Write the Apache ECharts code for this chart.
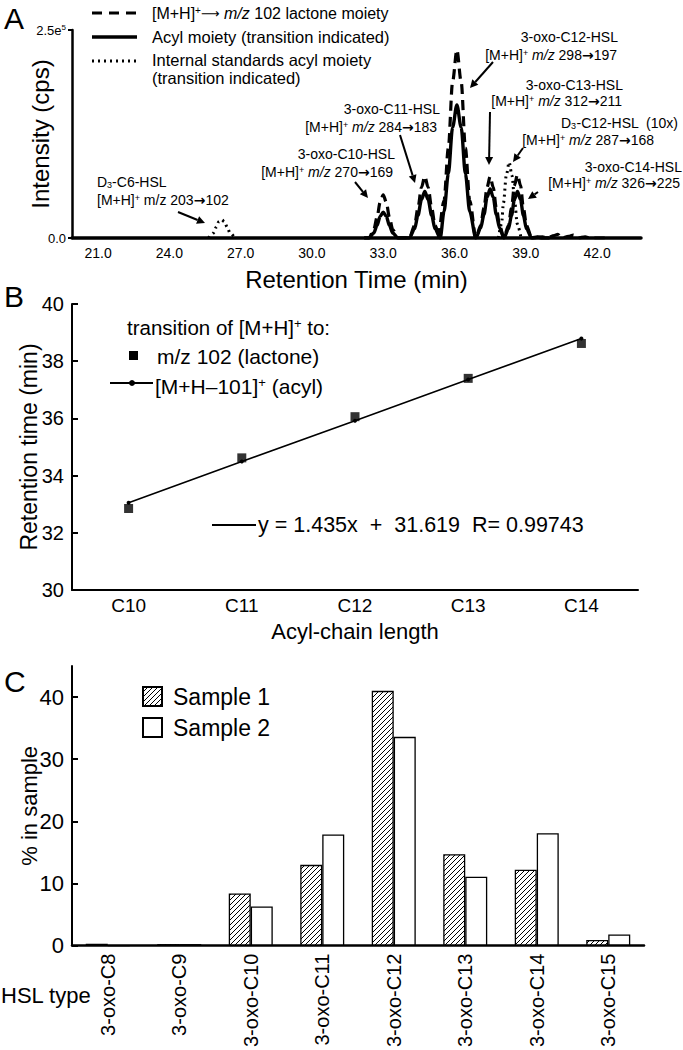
<!DOCTYPE html>
<html><head><meta charset="utf-8">
<script src="https://cdn.jsdelivr.net/npm/echarts@6/dist/echarts.min.js"></script>
<style>html,body{margin:0;padding:0;background:#fff}#c{width:683px;height:1050px}</style>
</head><body><div id="c"></div>
<script>
// ---------- Panel A: chromatogram traces [retention time (min), intensity (cps)]
const lactoneTrace = [
  [32.2,0],[32.4,0],[32.6,10000],[32.74,25000],[32.87,43000],[33.0,52000],[33.13,43000],[33.26,25000],[33.4,10000],[33.62,0],
  [34.1,0],[34.32,15000],[34.46,36000],[34.61,61000],[34.75,74000],[34.89,61000],[35.04,36000],[35.18,15000],[35.4,0],
  [35.3,0],[35.56,45000],[35.74,108000],[35.92,188000],[36.1,226000],[36.28,188000],[36.46,108000],[36.64,45000],[36.9,0],
  [37.1,15000],[37.24,36000],[37.37,61000],[37.5,74000],[37.63,61000],[37.76,36000],[37.9,15000],[38.08,0],
  [38.27,15000],[38.4,36000],[38.52,63000],[38.65,76000],[38.78,63000],[38.9,36000],[39.03,15000],[39.25,0],
  [39.7,1500],[39.9,0],[40.2,3000],[40.35,4500],[40.5,0],[40.8,2000],[41.0,3500],[41.2,0],[41.5,1500],[41.7,0],[42.5,0]
];
const acylTrace = [
  [32.2,0],[32.4,0],[32.6,6000],[32.74,15000],[32.87,26000],[33.0,31000],[33.13,26000],[33.26,15000],[33.4,6000],[33.62,0],
  [34.1,0],[34.32,11000],[34.46,27000],[34.61,46000],[34.75,56000],[34.89,46000],[35.04,27000],[35.18,11000],[35.4,0],
  [35.56,32000],[35.74,77000],[35.92,133000],[36.1,160000],[36.28,133000],[36.46,77000],[36.64,32000],[36.9,0],
  [37.1,12000],[37.24,28000],[37.37,49000],[37.5,59000],[37.63,49000],[37.76,28000],[37.9,12000],[38.08,0],
  [38.27,11000],[38.4,27000],[38.52,46000],[38.65,56000],[38.78,46000],[38.9,27000],[39.03,11000],[39.25,0],
  [39.5,1200],[39.7,0],[40.0,0]
];
const standardTrace = [
  [25.65,0],[25.85,6000],[25.97,13000],[26.08,19500],[26.2,22000],[26.32,19500],[26.43,13000],[26.55,6000],[26.75,0],
  null,
  [37.85,0],[37.98,17000],[38.06,42000],[38.18,75000],[38.3,91000],[38.42,75000],[38.54,42000],[38.64,17000],[38.8,0]
];
const retentionTicks = [21, 24, 27, 30, 33, 36, 39, 42];
const intensityTicks = [0, 250000];

// ---------- Panel B
const chainLengths = ['C10', 'C11', 'C12', 'C13', 'C14'];
const lactoneRT = [32.85, 34.62, 36.06, 37.4, 38.62];
const acylFitRT = [33.05, 34.49, 35.92, 37.36, 38.79];

// ---------- Panel C
const hslTypes = ['3-oxo-C8','3-oxo-C9','3-oxo-C10','3-oxo-C11','3-oxo-C12','3-oxo-C13','3-oxo-C14','3-oxo-C15'];
const sample1 = [0.3, 0.25, 8.4, 13.0, 41.0, 14.7, 12.2, 0.9];
const sample2 = [0, 0.25, 6.3, 17.9, 33.6, 11.1, 18.1, 1.8];
const percentTicks = [0, 10, 20, 30, 40];

const FF = '"Liberation Sans", Arial, sans-serif';

function hatchCanvas() {
  const c = document.createElement('canvas'); c.width = 5; c.height = 5;
  const g = c.getContext('2d');
  g.fillStyle = '#fff'; g.fillRect(0, 0, 5, 5);
  g.strokeStyle = '#000'; g.lineWidth = 1;
  g.beginPath();
  g.moveTo(-1, 6); g.lineTo(6, -1);
  g.moveTo(-1, 1); g.lineTo(1, -1);
  g.moveTo(4, 6); g.lineTo(6, 4);
  g.stroke();
  return c;
}
const hatch = { image: hatchCanvas(), repeat: 'repeat' };

function richSet(fs) {
  return {
    n: { fontSize: fs, fontFamily: FF, color: '#000' },
    i: { fontSize: fs, fontFamily: FF, fontStyle: 'italic', color: '#000' },
    sup: { fontSize: Math.round(fs * 0.62), fontFamily: FF, verticalAlign: 'top', color: '#000' },
    sub: { fontSize: Math.round(fs * 0.62), fontFamily: FF, verticalAlign: 'bottom', color: '#000' },
    ar: { fontSize: Math.round(fs * 0.8), fontFamily: '"DejaVu Sans", sans-serif', color: '#000' },
    arw: { fontSize: fs, fontFamily: '"DejaVu Sans", sans-serif', fontWeight: 'bold', color: '#000' }
  };
}
function wrapRich(s) {
  return s.split(/(\{[a-z]+\|[^}]*\})/).map(p => (p === '' || p[0] === '{') ? p : '{n|' + p + '}').join('');
}
function txt(x, y, text, fs, align) {
  return {
    type: 'text', x: x, y: y, z: 100,
    style: {
      text: wrapRich(text), fontSize: fs, fontFamily: FF, fill: '#000',
      align: align || 'left', textAlign: align || 'left',
      verticalAlign: 'middle', textVerticalAlign: 'middle',
      rich: richSet(fs)
    }
  };
}
function arrow(x1, y1, x2, y2) {
  const a = Math.atan2(y2 - y1, x2 - x1), L = 8, W = 4;
  const bx = x2 - L * Math.cos(a), by = y2 - L * Math.sin(a);
  const px = -Math.sin(a) * W, py = Math.cos(a) * W;
  return [
    { type: 'line', z: 100, shape: { x1: x1, y1: y1, x2: bx, y2: by }, style: { stroke: '#000', lineWidth: 2 } },
    { type: 'polygon', z: 100, shape: { points: [[x2, y2], [bx + px, by + py], [bx - px, by - py]] }, style: { fill: '#000' } }
  ];
}
function seg(x1, y1, x2, y2, w, dash) {
  return { type: 'line', z: 100, shape: { x1: x1, y1: y1, x2: x2, y2: y2 },
    style: { stroke: '#000', lineWidth: w, lineDash: dash || null } };
}

const graphics = [
  txt(4, 18, 'A', 30), txt(4, 296, 'B', 30), txt(4, 681, 'C', 30),
  // legend A
  seg(92, 13, 136, 13, 3, [10, 7]),
  txt(152, 13, '[M+H]{sup|+}{ar|⟶} {i|m/z} 102 lactone moiety', 16),
  seg(92, 37, 137, 37, 3.5),
  txt(152, 37, 'Acyl moiety (transition indicated)', 16.5),
  seg(92, 61, 136, 61, 3, [2, 4]),
  txt(152, 60, 'Internal standards acyl moiety', 16.5),
  txt(152, 78, '(transition indicated)', 16.5),
  // annotations A
  txt(97, 182, 'D{sub|3}-C6-HSL', 14),
  txt(97, 200, '[M+H]{sup|+} m/z 203{arw|→}102', 14),
  txt(395, 154, '3-oxo-C10-HSL', 14, 'right'),
  txt(393, 172, '[M+H]{sup|+} {i|m/z} 270{arw|→}169', 14, 'right'),
  txt(440, 109, '3-oxo-C11-HSL', 14, 'right'),
  txt(437, 127, '[M+H]{sup|+} {i|m/z} 284{arw|→}183', 14, 'right'),
  txt(618, 37, '3-oxo-C12-HSL', 14, 'right'),
  txt(617, 55, '[M+H]{sup|+} {i|m/z} 298{arw|→}197', 14, 'right'),
  txt(623, 85, '3-oxo-C13-HSL', 14, 'right'),
  txt(622, 101, '[M+H]{sup|+} {i|m/z} 312{arw|→}211', 14, 'right'),
  txt(678, 123, 'D{sub|3}-C12-HSL  (10x)', 14, 'right'),
  txt(654, 140, '[M+H]{sup|+} {i|m/z} 287{arw|→}168', 14, 'right'),
  txt(682, 167, '3-oxo-C14-HSL', 14, 'right'),
  txt(680, 183, '[M+H]{sup|+} {i|m/z} 326{arw|→}225', 14, 'right'),
  ...arrow(178, 212, 205, 223),
  ...arrow(355, 182, 368, 198),
  ...arrow(400, 135, 415, 183),
  ...arrow(493, 62, 470, 88),
  ...arrow(490, 112, 489, 165),
  ...arrow(523, 148, 513, 162),
  ...arrow(538, 192, 528, 199),
  // legend B
  txt(127, 327, 'transition of [M+H]{sup|+} to:', 20.5),
  { type: 'rect', z: 100, shape: { x: 129, y: 351, width: 9, height: 9 }, style: { fill: '#000' } },
  txt(157, 356, 'm/z 102 (lactone)', 21),
  seg(110, 383, 153, 383, 1.8),
  { type: 'circle', z: 100, shape: { cx: 132, cy: 383, r: 3 }, style: { fill: '#000' } },
  txt(155, 386, '[M+H–101]{sup|+} (acyl)', 21),
  seg(212, 525, 256, 525, 1.8),
  txt(258, 525, 'y = 1.435x  +  31.619  R= 0.99743', 21.5),
  // C axis category title
  txt(1, 995, 'HSL type', 22)
];

const chart = echarts.init(document.getElementById('c'), null, { renderer: 'svg' });
const black = '#000';
const axisTxt = (fs) => ({ color: black, fontSize: fs, fontFamily: FF });

chart.setOption({
  animation: false,
  backgroundColor: '#fff',
  grid: [
    { left: 72, top: 30, width: 569, height: 208 },
    { left: 72, top: 304, width: 566, height: 286 },
    { left: 72, top: 666, width: 572, height: 280 }
  ],
  legend: [{
    data: ['Sample 1', 'Sample 2'], orient: 'vertical', left: 137, top: 680,
    itemWidth: 19, itemHeight: 19, itemGap: 8, icon: 'rect',
    textStyle: { ...axisTxt(23), padding: [0, 0, 0, 6] }
  }],
  xAxis: [
    { gridIndex: 0, type: 'value', min: 19.9, max: 43.85,
      name: 'Retention Time (min)', nameLocation: 'middle', nameGap: 29, nameMoveOverlap: false,
      nameTextStyle: axisTxt(24),
      axisLine: { lineStyle: { color: black, width: 3.5 } },
      axisTick: { show: false }, splitLine: { show: false },
      axisLabel: { customValues: retentionTicks, formatter: v => v.toFixed(1), margin: 8, ...axisTxt(14) } },
    { gridIndex: 1, type: 'category', data: chainLengths, boundaryGap: true,
      name: 'Acyl-chain length', nameLocation: 'middle', nameGap: 30, nameMoveOverlap: false,
      nameTextStyle: axisTxt(22),
      axisLine: { lineStyle: { color: black, width: 2 } },
      axisTick: { alignWithLabel: true, inside: true, length: 6, lineStyle: { color: black, width: 2 } },
      axisLabel: { margin: 6, ...axisTxt(19) } },
    { gridIndex: 2, type: 'category', data: hslTypes, boundaryGap: true,
      axisLine: { lineStyle: { color: black, width: 2.5 } },
      axisTick: { inside: true, length: 7, lineStyle: { color: black, width: 2 } },
      axisLabel: { rotate: 90, interval: 0, margin: 8, ...axisTxt(20) } }
  ],
  yAxis: [
    { gridIndex: 0, type: 'value', min: 0, max: 250000,
      name: 'Intensity (cps)', nameLocation: 'middle', nameGap: 20, nameRotate: 90, nameMoveOverlap: false,
      nameTextStyle: axisTxt(24),
      axisLine: { show: true, lineStyle: { color: black, width: 2.5 } },
      axisTick: { show: true, customValues: intensityTicks, length: 4, lineStyle: { color: black, width: 2 } },
      splitLine: { show: false },
      axisLabel: { customValues: intensityTicks, margin: 6, ...axisTxt(13),
        formatter: v => {
          if (v === 0) return '0.0';
          const e = Math.floor(Math.log10(v));
          return (v / Math.pow(10, e)).toFixed(1) + 'e{sup|' + e + '}';
        },
        rich: { sup: { fontSize: 8, verticalAlign: 'top', fontFamily: FF, color: black } } } },
    { gridIndex: 1, type: 'value', min: 30, max: 40, interval: 2,
      name: 'Retention time (min)', nameLocation: 'middle', nameGap: 32, nameRotate: 90, nameMoveOverlap: false,
      nameTextStyle: axisTxt(23),
      axisLine: { show: true, lineStyle: { color: black, width: 2 } },
      axisTick: { show: true, inside: true, length: 6, lineStyle: { color: black, width: 2 } },
      splitLine: { show: false },
      axisLabel: { margin: 8, ...axisTxt(20) } },
    { gridIndex: 2, type: 'value', min: 0, max: 45,
      name: '% in sample', nameLocation: 'middle', nameGap: 32, nameRotate: 90, nameMoveOverlap: false,
      nameTextStyle: axisTxt(22),
      axisLine: { show: true, lineStyle: { color: black, width: 2 } },
      axisTick: { show: true, inside: true, length: 6, customValues: percentTicks, lineStyle: { color: black, width: 2 } },
      splitLine: { show: false },
      axisLabel: { customValues: percentTicks, margin: 8, ...axisTxt(22) } }
  ],
  series: [
    { name: 'm/z 102 lactone moiety', type: 'line', xAxisIndex: 0, yAxisIndex: 0, data: lactoneTrace,
      showSymbol: false, smooth: 0.3, smoothMonotone: 'x', connectNulls: false,
      lineStyle: { color: black, width: 3.2, type: [10, 6] }, z: 3 },
    { name: 'Acyl moiety', type: 'line', xAxisIndex: 0, yAxisIndex: 0, data: acylTrace,
      showSymbol: false, smooth: 0.3, smoothMonotone: 'x',
      lineStyle: { color: black, width: 3.4 }, z: 4 },
    { name: 'Internal standards acyl moiety', type: 'line', xAxisIndex: 0, yAxisIndex: 0, data: standardTrace,
      showSymbol: false, smooth: 0.3, smoothMonotone: 'x', connectNulls: false,
      lineStyle: { color: black, width: 3, type: [2, 4] }, z: 3 },
    { name: 'acyl fit', type: 'line', xAxisIndex: 1, yAxisIndex: 1, data: acylFitRT,
      symbol: 'circle', symbolSize: 4, itemStyle: { color: black },
      lineStyle: { color: black, width: 1.6 }, z: 3 },
    { name: 'lactone', type: 'scatter', xAxisIndex: 1, yAxisIndex: 1, data: lactoneRT,
      symbol: 'rect', symbolSize: 9, itemStyle: { color: black }, z: 4 },
    { name: 'Sample 1', type: 'bar', xAxisIndex: 2, yAxisIndex: 2, data: sample1,
      barWidth: 22, barGap: '0%',
      itemStyle: { color: hatch, borderColor: black, borderWidth: 1.3 } },
    { name: 'Sample 2', type: 'bar', xAxisIndex: 2, yAxisIndex: 2, data: sample2,
      barWidth: 22, barGap: '0%',
      itemStyle: { color: '#fff', borderColor: black, borderWidth: 1.3 } }
  ],
  graphic: graphics
});
</script></body></html>
